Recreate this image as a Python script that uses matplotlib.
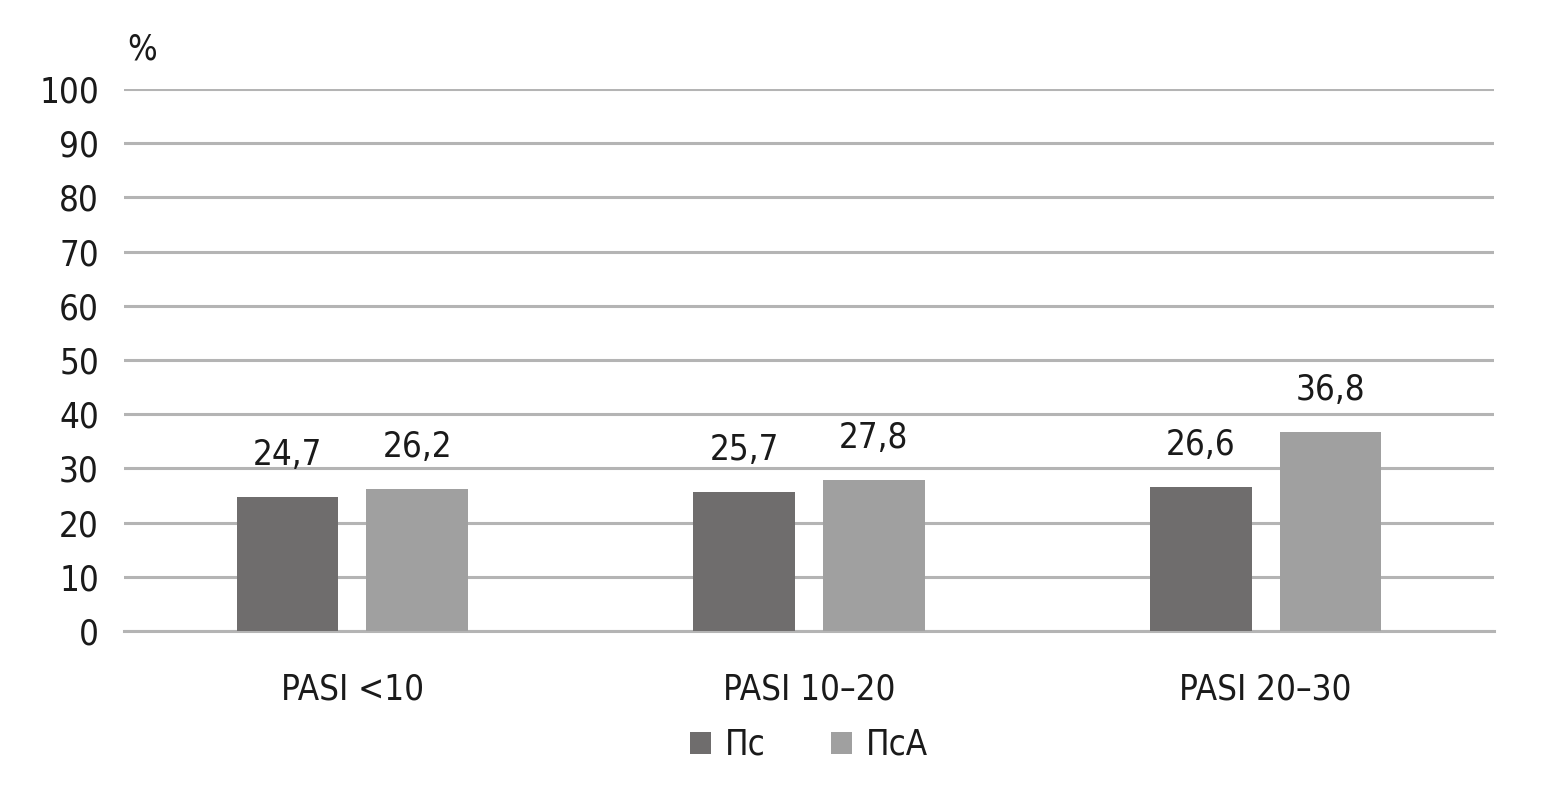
import matplotlib
matplotlib.use('Agg')
import matplotlib.pyplot as plt
import numpy as np

plt.rcParams['font.family'] = ['DejaVu Sans']
plt.rcParams['font.stretch'] = 'condensed'

categories = ['PASI <10', 'PASI 10–20', 'PASI 20–30']
series_names = ['Пс', 'ПсА']
ps_values = [24.7, 25.7, 26.6]
psa_values = [26.2, 27.8, 36.8]
yticks = [0, 10, 20, 30, 40, 50, 60, 70, 80, 90, 100]

dark = '#6f6d6d'
light = '#a0a0a0'
grid_col = '#b4b4b4'
text_col = '#1a1a1a'

fig = plt.figure(figsize=(15.44, 7.94), dpi=100)
ax = fig.add_axes([124 / 1544, 1 - 631 / 794, 1370 / 1544, 542 / 794])

x = np.arange(len(categories))
width = 0.223
off = 0.142

b1 = ax.bar(x - off, ps_values, width, color=dark, label=series_names[0], zorder=3)
b2 = ax.bar(x + off, psa_values, width, color=light, label=series_names[1], zorder=3)

# value labels above each bar, decimal comma
for bars in (b1, b2):
    for rect in bars:
        h = rect.get_height()
        ax.annotate(f'{h:.1f}'.replace('.', ','),
                    (rect.get_x() + rect.get_width() / 2, h),
                    xytext=(0, 18), textcoords='offset points',
                    ha='center', va='bottom', fontsize=25, color=text_col)

ax.set_xlim(-0.5, 2.5)
ax.set_ylim(0, 100)
ax.set_yticks(yticks)
ax.set_yticklabels([str(t) for t in yticks])
ax.yaxis.grid(True, color=grid_col, linewidth=2.2, zorder=0)
ax.set_axisbelow(True)
ax.set_xticks(x)
ax.set_xticklabels(categories)
ax.tick_params(axis='y', length=0, pad=18, labelsize=25, labelcolor=text_col)
ax.tick_params(axis='x', length=0, pad=30, labelsize=25, labelcolor=text_col)
for s in ['top', 'right', 'left']:
    ax.spines[s].set_visible(False)
ax.spines['bottom'].set_color(grid_col)
ax.spines['bottom'].set_linewidth(2.2)

fig.text(142 / 1544, 1 - 50 / 794, '%', fontsize=25, color=text_col,
         ha='center', va='center')

ax.legend(loc='center', bbox_to_anchor=(0.5, -0.21), ncol=2, frameon=False,
          fontsize=25, handlelength=0.6, handleheight=0.6, handletextpad=0.4,
          columnspacing=1.9, labelcolor=text_col)

fig.savefig('out.png', dpi=100, facecolor='white')
